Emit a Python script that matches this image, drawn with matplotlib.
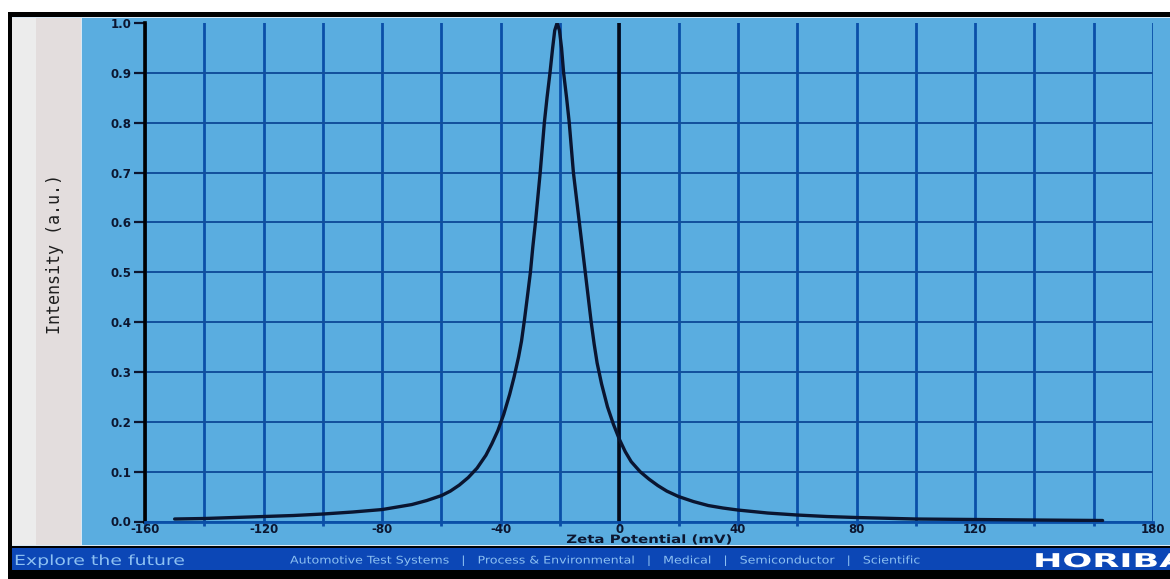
import matplotlib
matplotlib.use("Agg")
import matplotlib.pyplot as plt
from matplotlib.patches import Rectangle, PathPatch
from matplotlib.textpath import TextPath
from matplotlib.font_manager import FontProperties
from matplotlib.transforms import Affine2D

# Zeta potential distribution (mV vs normalised intensity)
zeta_mv = [-150, -140, -130, -120, -110, -100, -90, -80, -75, -70, -65, -60,
           -57, -54, -51, -48, -45, -43, -41, -39, -37, -35.5, -34, -33, -32,
           -31, -30, -29.2, -28.3, -27.5, -26.7, -26, -25.3, -24.4, -23.4,
           -22.5, -21.8, -21, -20.2, -19.5, -18.8, -17.8, -16.9, -16.2, -15.5,
           -14.5, -13.5, -12.5, -11.5, -10.5, -9.5, -8.5, -7.5, -6, -4, -2,
           0, 2, 4, 7, 10, 13, 16, 20, 25, 30, 35, 40, 50, 60, 70, 80, 90,
           100, 120, 140, 163]
intensity = [0.005, 0.006, 0.008, 0.010, 0.012, 0.015, 0.019, 0.024, 0.029,
             0.034, 0.042, 0.052, 0.061, 0.073, 0.088, 0.107, 0.133, 0.156,
             0.182, 0.215, 0.255, 0.290, 0.330, 0.362, 0.405, 0.452, 0.500,
             0.550, 0.600, 0.650, 0.700, 0.750, 0.800, 0.850, 0.900, 0.950,
             0.985, 1.000, 0.985, 0.950, 0.900, 0.850, 0.800, 0.750, 0.700,
             0.650, 0.600, 0.550, 0.500, 0.450, 0.400, 0.356, 0.318, 0.276,
             0.230, 0.195, 0.165, 0.140, 0.120, 0.100, 0.085, 0.072, 0.061,
             0.050, 0.040, 0.032, 0.027, 0.023, 0.017, 0.013, 0.010, 0.008,
             0.0065, 0.005, 0.004, 0.003, 0.002]

x_grid = list(range(-160, 181, 20))
x_labels = {-160: "-160", -120: "-120", -80: "-80", -40: "-40", 0: "0",
            40: "40", 80: "80", 120: "120", 180: "180"}
y_ticks = [0.0, 0.1, 0.2, 0.3, 0.4, 0.5, 0.6, 0.7, 0.8, 0.9, 1.0]
y_labels = ["0.0", "0.1", "0.2", "0.3", "0.4", "0.5", "0.6", "0.7", "0.8",
            "0.9", "1.0"]

W, H = 1170, 579
BLUE = "#5aade0"
GRID = "#0a4fa8"
INK = "#0c1630"
FOOT_TEXT = "#8cc0f2"

fig = plt.figure(figsize=(W / 100, H / 100), dpi=100)
fig.patch.set_facecolor("white")


def box(x0, y0, x1, y1, color, z=-10):
    """Rectangle given in pixel coordinates measured from the top-left."""
    r = Rectangle((x0 / W, 1 - y1 / H), (x1 - x0) / W, (y1 - y0) / H,
                  transform=fig.transFigure, facecolor=color,
                  edgecolor="none", zorder=z)
    fig.add_artist(r)


def wide_text(s, x_left, y_base, size, stretch, color, weight="normal",
              center=False):
    """Horizontally stretched text placed in pixel coordinates."""
    tp = TextPath((0, 0), s, size=size,
                  prop=FontProperties(family="DejaVu Sans", weight=weight))
    if center:
        ext = tp.get_extents()
        x_left -= (ext.x0 + ext.width / 2) * stretch
    patch = PathPatch(tp, facecolor=color, edgecolor="none",
                      transform=Affine2D().scale(stretch, 1.0)
                      .translate(x_left, H - y_base))
    fig.add_artist(patch)


# window frame and panels
box(8, 12, W, H, "black", -20)
box(12, 17, W, 546, "#d8e8f4", -19)
box(12, 18, 36, 545, "#ececec", -18)
box(36, 18, 81, 545, "#e3dddd", -18)
box(82, 18, W, 545, BLUE, -18)
box(12, 548, W, 570, "#0c47b6", -18)

# plotting area
ax = fig.add_axes([145 / W, 1 - 521.5 / H, (1153 - 145) / W, (521.5 - 23) / H])
ax.set_facecolor(BLUE)
ax.set_xlim(-160, 180)
ax.set_ylim(0, 1.0)

ax.set_xticks(x_grid)
ax.set_xticklabels([x_labels.get(v, "") for v in x_grid])
ax.set_yticks(y_ticks)
ax.set_yticklabels(y_labels)

ax.grid(True, axis="x", color=GRID, lw=2.0, zorder=1)
ax.grid(True, axis="y", color="#124f9c", lw=1.4, zorder=1)
ax.get_ygridlines()[-1].set_visible(False)
ax.set_axisbelow(True)

for side in ("top", "right"):
    ax.spines[side].set_visible(False)
ax.spines["left"].set_color("black")
ax.spines["left"].set_linewidth(2.6)
ax.spines["bottom"].set_color(GRID)
ax.spines["bottom"].set_linewidth(2.0)

ax.tick_params(axis="x", length=3, width=2, color=GRID, pad=-2.2,
               labelsize=8.5, labelcolor=INK)
ax.tick_params(axis="y", length=8, width=1.6, color=INK, pad=1.5,
               labelsize=8.5, labelcolor=INK)
for lab in ax.get_xticklabels() + ax.get_yticklabels():
    lab.set_fontweight("bold")

ax.axvline(0, color="#050a18", lw=2.6, zorder=2)
ax.plot(zeta_mv, intensity, color="#0a1530", lw=2.4, zorder=3,
        solid_joinstyle="round", solid_capstyle="round")

wide_text("Zeta Potential (mV)", 649, 543, 11.5, 1.3, INK, weight="bold",
          center=True)
fig.text(55 / W, 1 - 254 / H, "Intensity (a.u.)", rotation=90,
         ha="center", va="center", fontsize=12, color="#1e1e1e",
         family="DejaVu Sans Mono")

# footer bar
wide_text("Explore the future", 14, 565, 14, 1.35, FOOT_TEXT)
wide_text("Automotive Test Systems   |   Process & Environmental   |   "
          "Medical   |   Semiconductor   |   Scientific",
          290, 563.5, 10.5, 1.2, FOOT_TEXT)
wide_text("HORIBA", 1033, 567, 19, 1.85, "white", weight="bold")

fig.savefig("out.png", dpi=100, facecolor=fig.get_facecolor())
